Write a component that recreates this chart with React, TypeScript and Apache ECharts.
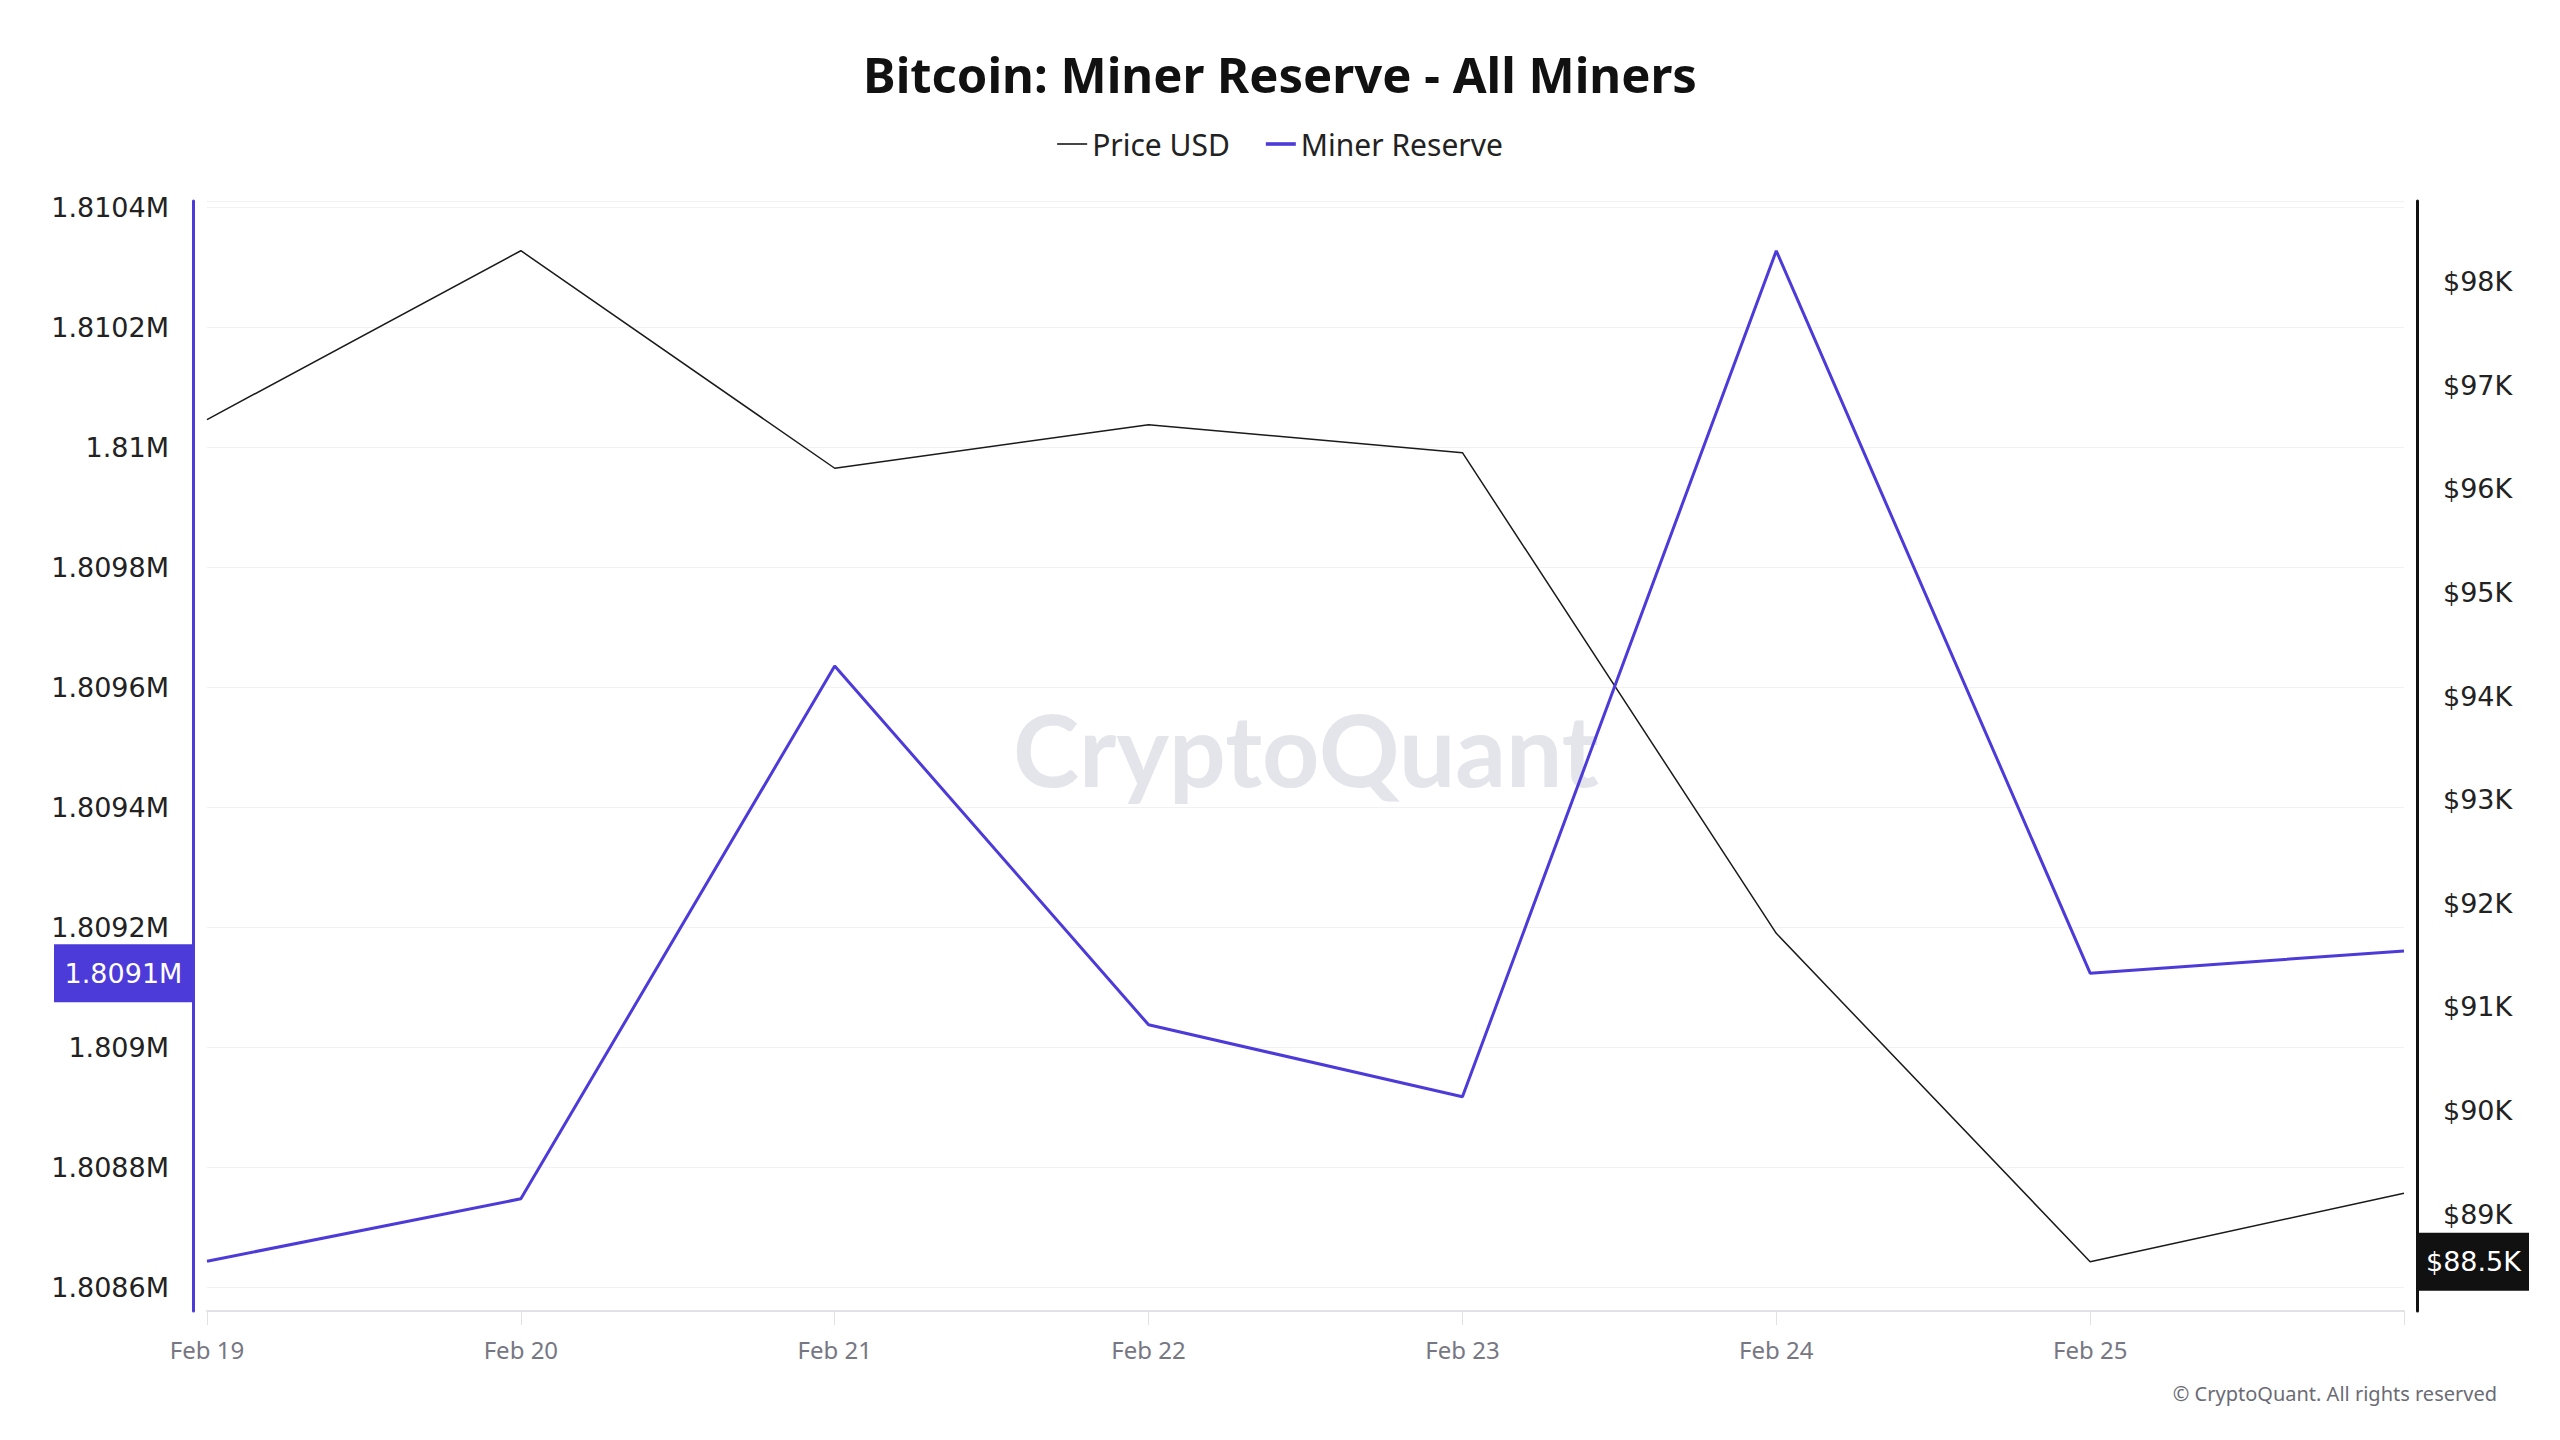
import React, { useEffect, useRef } from "react";
import * as echarts from "echarts";

const dates = ["Feb 19", "Feb 20", "Feb 21", "Feb 22", "Feb 23", "Feb 24", "Feb 25", "Feb 26"];
const priceUsd = [96670, 98300, 96200, 96620, 96350, 91710, 88540, 89200];
const minerReserve = [1808643, 1808747, 1809635, 1809037, 1808917, 1810327, 1809123, 1809160];
const markIndex = 6; // highlighted values shown in axis boxes

const PURPLE = "#4c3ad9";
const AXIS_FONT = "DejaVu Sans";

const fmtReserve = (v: number) => `${parseFloat((v / 1e6).toFixed(4))}M`;
const fmtPrice = (v: number) => `$${Math.round(v / 1000)}K`;

export default function App() {
  const ref = useRef<HTMLDivElement>(null);
  useEffect(() => {
    if (!ref.current) return;
    const chart = echarts.init(ref.current, undefined, { renderer: "svg" });
    const staticGraphics: any[] = [
      {
        type: "text",
        x: 1306,
        y: 748,
        z: 0,
        silent: true,
        style: {
          text: "CryptoQuant",
          font: "bold 100px Lato",
          fill: "#e4e4eb",
          align: "center",
          verticalAlign: "middle",
        },
      },
      {
        type: "text",
        right: 63,
        top: 1383,
        style: {
          text: "© CryptoQuant. All rights reserved",
          font: "20px 'Noto Sans'",
          fill: "#6b6b75",
        },
      },
    ];
    chart.setOption({
      animation: false,
      backgroundColor: "#ffffff",
      title: {
        text: "Bitcoin: Miner Reserve - All Miners",
        left: "center",
        top: 44,
        textStyle: { fontFamily: "Noto Sans", fontWeight: "bold", fontSize: 49, color: "#111" },
      },
      legend: {
        top: 124,
        left: "center",
        itemWidth: 30,
        itemHeight: 14,
        itemGap: 36,
        textStyle: { fontFamily: "Noto Sans", fontSize: 30, color: "#222" },
        data: [
          { name: "Price USD", icon: "path://M0,0M30,14M0,6.2H30V7.8H0Z" },
          { name: "Miner Reserve", icon: "path://M0,0M30,14M0,5.2H30V8.8H0Z" },
        ],
      },
      grid: { left: 207, right: 156, top: 201, bottom: 129, containLabel: false },
      xAxis: {
        type: "category",
        boundaryGap: false,
        data: dates,
        axisLine: { lineStyle: { color: "#e2e2e6", width: 2 } },
        axisTick: { show: true, length: 14, lineStyle: { color: "#e2e2e6", width: 1 } },
        axisLabel: {
          margin: 26,
          fontFamily: "Noto Sans",
          fontSize: 24,
          color: "#777783",
          formatter: (v: string, i: number) => (i === dates.length - 1 ? "" : v),
        },
        splitLine: { show: false },
      },
      yAxis: [
        {
          type: "value",
          position: "left",
          min: 1808560,
          max: 1810410,
          splitNumber: 9,
          offset: 14,
          axisLine: { show: true, lineStyle: { color: PURPLE, width: 3 } },
          axisTick: { show: false },
          axisLabel: {
            margin: 24,
            fontFamily: AXIS_FONT,
            fontSize: 27,
            color: "#222",
            padding: [0, 0, 8, 0],
            showMinLabel: false,
            showMaxLabel: false,
            formatter: fmtReserve,
          },
          splitLine: { show: true, lineStyle: { color: "#f1f1f3", width: 1 } },
        },
        {
          type: "value",
          position: "right",
          min: 88064,
          max: 98780,
          splitNumber: 10,
          offset: 13,
          axisLine: { show: true, lineStyle: { color: "#111", width: 3 } },
          axisTick: { show: false },
          axisLabel: {
            margin: 26,
            fontFamily: AXIS_FONT,
            fontSize: 27,
            color: "#222",
            padding: [0, 0, 2, 0],
            showMinLabel: false,
            showMaxLabel: false,
            formatter: fmtPrice,
          },
          splitLine: { show: false },
        },
      ],
      series: [
        {
          name: "Price USD",
          type: "line",
          yAxisIndex: 1,
          data: priceUsd,
          symbol: "none",
          lineStyle: { color: "#1a1a1a", width: 1.5 },
          itemStyle: { color: "#1a1a1a" },
          z: 3,
        },
        {
          name: "Miner Reserve",
          type: "line",
          yAxisIndex: 0,
          data: minerReserve,
          symbol: "none",
          lineStyle: { color: PURPLE, width: 3 },
          itemStyle: { color: PURPLE },
          z: 4,
        },
      ],
      graphic: staticGraphics,
    });

    const yL = chart.convertToPixel({ yAxisIndex: 0 }, minerReserve[markIndex]) as number;
    const yR = chart.convertToPixel({ yAxisIndex: 1 }, priceUsd[markIndex]) as number;
    const leftBoxW = 139;
    const rightBoxW = 111;
    const boxH = 58;
    const leftAxisX = 193;
    const rightAxisX = 2418;
    chart.setOption({
      graphic: [
        ...staticGraphics,
        {
          type: "rect",
          shape: { x: leftAxisX - leftBoxW, y: yL - boxH / 2, width: leftBoxW, height: boxH },
          style: { fill: PURPLE },
          z: 10,
        },
        {
          type: "text",
          x: leftAxisX - leftBoxW / 2,
          y: yL,
          z: 11,
          style: {
            text: fmtReserve(Math.round(minerReserve[markIndex] / 100) * 100),
            font: `27px '${AXIS_FONT}'`,
            fill: "#fff",
            align: "center",
            verticalAlign: "middle",
          },
        },
        {
          type: "rect",
          shape: { x: rightAxisX, y: yR - boxH / 2, width: rightBoxW, height: boxH },
          style: { fill: "#111" },
          z: 10,
        },
        {
          type: "text",
          x: rightAxisX + rightBoxW / 2,
          y: yR,
          z: 11,
          style: {
            text: `$${(priceUsd[markIndex] / 1000).toFixed(1)}K`,
            font: `27px '${AXIS_FONT}'`,
            fill: "#fff",
            align: "center",
            verticalAlign: "middle",
          },
        },
      ],
    });
    return () => chart.dispose();
  }, []);
  return (
    <div
      ref={ref}
      style={{ position: "fixed", left: 0, top: 0, width: 2560, height: 1440, background: "#fff" }}
    />
  );
}
